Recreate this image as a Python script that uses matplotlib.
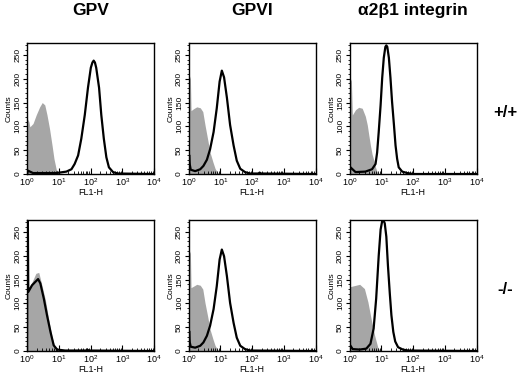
import numpy as np
import matplotlib
matplotlib.use("Agg")
import matplotlib.pyplot as plt
from matplotlib.ticker import MultipleLocator, LogLocator, NullFormatter

plt.rcParams["font.family"] = ["Liberation Sans", "DejaVu Sans"]
plt.rcParams["mathtext.fontset"] = "custom"
plt.rcParams["mathtext.rm"] = "Liberation Sans"
plt.rcParams["mathtext.it"] = "Liberation Sans"

titles = ["GPV", "GPVI", "\u03b12\u03b21 integrin"]
rowLabels = ["+/+", "-/-"]
xTickLabels = [r"$10^{0}$", r"$10^{1}$", r"$10^{2}$", r"$10^{3}$", r"$10^{4}$"]
yTicks = [0, 50, 100, 150, 200, 250]

# control (gray, filled): log10(FL1-H) and counts, order GPV, GPVI, a2b1 (+/+ then -/-)
ctrlLog = [
    [0.0, 0.0, 0.06, 0.09, 0.19, 0.29, 0.40, 0.48, 0.56, 0.63, 0.71, 0.79, 0.85, 0.92, 1.0, 1.05],
    [0.0, 0.0, 0.06, 0.08, 0.16, 0.26, 0.37, 0.45, 0.52, 0.60, 0.68, 0.77, 0.84, 0.91, 0.98],
    [0.0, 0.0, 0.06, 0.09, 0.19, 0.29, 0.40, 0.50, 0.56, 0.61, 0.66, 0.71, 0.77, 0.82, 0.87, 0.92],
    [0.0, 0.03, 0.16, 0.28, 0.37, 0.47, 0.58, 0.68, 0.79, 0.89, 0.98],
    [0.0, 0.0, 0.06, 0.08, 0.16, 0.26, 0.37, 0.45, 0.52, 0.60, 0.68, 0.77, 0.84, 0.91, 0.98],
    [0.0, 0.02, 0.20, 0.32, 0.47, 0.58, 0.68, 0.79, 0.89, 0.97],
]
ctrlCnt = [
    [0, 117, 110, 99, 106, 124, 141, 150, 145, 124, 95, 60, 32, 10, 3, 0],
    [0, 212, 200, 133, 137, 141, 139, 131, 103, 74, 45, 25, 11, 4, 0],
    [0, 205, 195, 124, 135, 140, 138, 121, 103, 81, 60, 42, 28, 14, 5, 0],
    [0, 131, 145, 163, 165, 138, 107, 68, 29, 7, 0],
    [0, 215, 205, 133, 136, 140, 138, 130, 101, 74, 45, 25, 11, 4, 0],
    [0, 135, 138, 140, 131, 103, 68, 33, 8, 0],
]

# specific antibody (black line)
abLog = [
    [0.0, 0.03, 0.19, 0.92, 1.24, 1.40, 1.50, 1.61, 1.71, 1.82, 1.92, 2.01, 2.06, 2.10, 2.14, 2.18, 2.27, 2.34, 2.42, 2.50, 2.58, 2.71, 2.86, 4.0],
    [0.0, 0.02, 0.04, 0.07, 0.21, 0.37, 0.47, 0.58, 0.68, 0.79, 0.89, 0.98, 1.05, 1.12, 1.21, 1.31, 1.42, 1.52, 1.63, 1.78, 1.94, 2.2, 2.24, 2.28, 4.0],
    [0.0, 0.03, 0.19, 0.50, 0.71, 0.82, 0.87, 0.92, 0.98, 1.03, 1.08, 1.13, 1.16, 1.19, 1.24, 1.29, 1.34, 1.40, 1.45, 1.50, 1.55, 1.66, 1.82, 2.0, 4.0],
    [0.0, 0.02, 0.025, 0.04, 0.16, 0.26, 0.35, 0.42, 0.53, 0.63, 0.74, 0.84, 0.95, 1.2, 1.88, 1.9, 1.92, 4.0],
    [0.0, 0.02, 0.04, 0.07, 0.21, 0.37, 0.47, 0.58, 0.68, 0.79, 0.89, 0.98, 1.05, 1.12, 1.21, 1.31, 1.42, 1.52, 1.63, 1.78, 1.94, 4.0],
    [0.0, 0.02, 0.10, 0.32, 0.53, 0.66, 0.76, 0.84, 0.92, 0.98, 1.03, 1.08, 1.11, 1.16, 1.21, 1.27, 1.32, 1.38, 1.44, 1.53, 1.68, 1.85, 4.0],
]
abCnt = [
    [0, 7, 2, 2, 5, 10, 21, 39, 74, 124, 181, 223, 234, 238, 234, 223, 181, 124, 74, 35, 14, 4, 1, 0],
    [0, 40, 20, 9, 6, 10, 17, 30, 52, 88, 138, 194, 217, 203, 160, 103, 60, 28, 11, 4, 1, 1, 3, 1, 0],
    [0, 14, 4, 5, 10, 21, 45, 88, 145, 202, 244, 267, 270, 267, 244, 202, 152, 103, 60, 32, 14, 5, 2, 0, 0],
    [0, 300, 300, 124, 138, 145, 151, 142, 110, 75, 40, 12, 3, 1, 1, 3, 1, 0],
    [0, 42, 18, 9, 7, 11, 18, 32, 53, 88, 136, 192, 213, 199, 157, 101, 59, 28, 11, 4, 1, 0],
    [0, 12, 4, 3, 5, 15, 47, 110, 200, 255, 273, 273, 268, 240, 180, 120, 75, 40, 20, 8, 3, 1, 0],
]

fig = plt.figure(figsize=(5.2, 3.76), dpi=100)

W, H = 520.0, 376.0
colLeft = [27, 188.5, 349.5]
rowTop = [43, 220]
axW, axH = 127, 131

for r in range(2):
    for c in range(3):
        k = r*3 + c
        ax = fig.add_axes([colLeft[c]/W, 1 - (rowTop[r] + axH)/H, axW/W, axH/H])

        xc = 10**np.array(ctrlLog[k])
        xa = 10**np.array(abLog[k])

        ax.fill_between(xc, 0, ctrlCnt[k], color="#a6a6a6", linewidth=0, zorder=1)
        ax.plot(xa, abCnt[k], color="black", linewidth=1.6, zorder=3)

        ax.set_xscale("log")
        ax.set_xlim(1, 1e4)
        ax.set_ylim(0, 275)

        ax.set_xticks([1, 10, 100, 1000, 10000])
        ax.set_xticklabels(xTickLabels)
        ax.xaxis.set_minor_locator(LogLocator(base=10, subs=np.arange(2, 10), numticks=10))
        ax.xaxis.set_minor_formatter(NullFormatter())

        ax.set_yticks(yTicks)
        ax.yaxis.set_minor_locator(MultipleLocator(10))

        ax.tick_params(axis="x", which="major", direction="in", length=4, width=0.8, labelsize=6.5, pad=2)
        ax.tick_params(axis="x", which="minor", direction="in", length=2.5, width=0.6)
        ax.tick_params(axis="y", which="major", direction="out", length=3, width=0.8, labelsize=6, pad=1)
        ax.tick_params(axis="y", which="minor", direction="out", length=1.5, width=0.6)
        for lbl in ax.get_yticklabels():
            lbl.set_rotation(90)
            lbl.set_va("center")

        for s in ax.spines.values():
            s.set_linewidth(1.0)

        ax.set_ylabel("Counts", fontsize=6, labelpad=1)
        ax.set_xlabel("FL1-H", fontsize=6.5, labelpad=0)

        if r == 0:
            ax.set_title(titles[c], fontsize=12.5, fontweight="bold", pad=20)

for r in range(2):
    yc = rowTop[r] + axH*0.53
    fig.text(505/W, 1 - yc/H, rowLabels[r], fontsize=12, fontweight="bold", ha="center", va="center")

fig.savefig("out.png", dpi=100)
